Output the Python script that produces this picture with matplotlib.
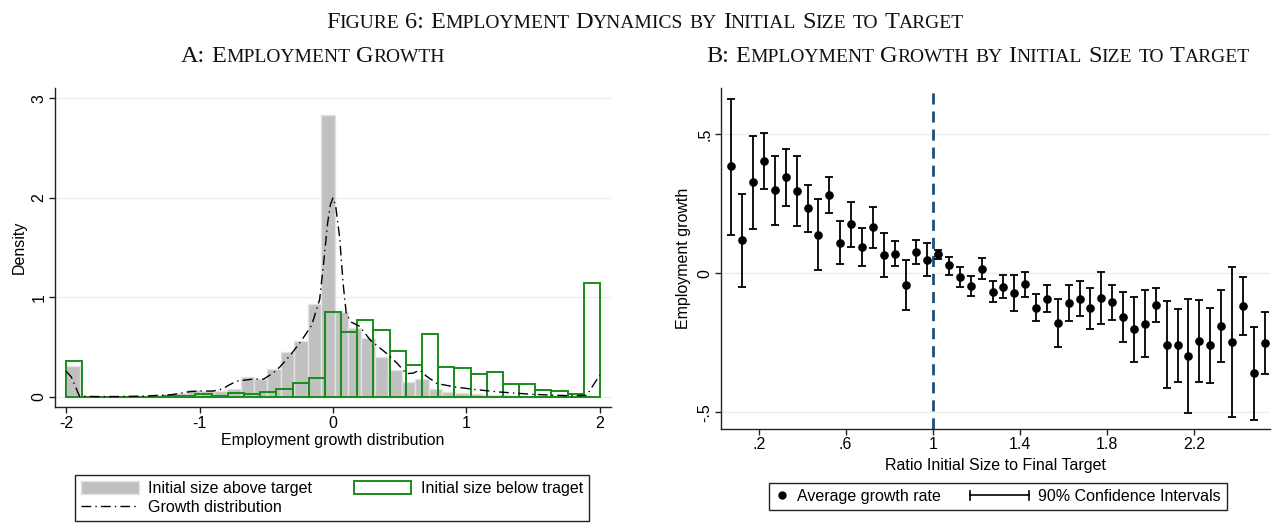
import numpy as np
import matplotlib
matplotlib.use("Agg")
import matplotlib.pyplot as plt
from matplotlib.transforms import IdentityTransform
from matplotlib.legend_handler import HandlerBase
from matplotlib.lines import Line2D
from matplotlib.patches import Patch

# ---------------- data ----------------
# Panel A: histogram of employment growth, firms with initial size above target (gray)
gray_start = -2.0
gray_width = 0.1006
gray_heights = [0.31, 0.004, 0.004, 0.005, 0.006, 0.01, 0.02, 0.025, 0.04, 0.067,
                0.06, 0.06, 0.085, 0.20, 0.185, 0.285, 0.45, 0.56, 0.93, 2.83,
                0.855, 0.69, 0.59, 0.40, 0.27, 0.15, 0.185, 0.085, 0.05, 0.04,
                0.03, 0.025, 0.018, 0.012, 0.01, 0.008, 0.006, 0.005, 0.004]
# firms with initial size below target (green outline)
green_start = -2.0
green_width = 4.0 / 33
green_heights = [0.36, 0.004, 0.003, 0.003, 0.004, 0.005, 0.006, 0.01, 0.027, 0.01,
                 0.04, 0.027, 0.054, 0.084, 0.138, 0.188, 0.856, 0.654, 0.778, 0.678,
                 0.463, 0.326, 0.634, 0.306, 0.296, 0.235, 0.248, 0.128, 0.131, 0.074,
                 0.06, 0.03, 1.15]
# overall growth density (dash-dot line)
kde_x = [-2.0, -1.96, -1.9, -1.8, -1.6, -1.4, -1.2, -1.07, -1.0, -0.9, -0.83, -0.78,
         -0.72, -0.6, -0.52, -0.45, -0.4, -0.32, -0.24, -0.16, -0.1, -0.07, -0.04,
         -0.02, 0.0, 0.02, 0.05, 0.075, 0.1, 0.14, 0.2, 0.28, 0.4, 0.48, 0.55, 0.6,
         0.65, 0.7, 0.78, 0.92, 1.07, 1.25, 1.5, 1.75, 1.9, 1.95, 2.0]
kde_y = [0.26, 0.2, 0.01, 0.005, 0.005, 0.01, 0.025, 0.055, 0.06, 0.06, 0.08, 0.12,
         0.16, 0.18, 0.18, 0.24, 0.30, 0.42, 0.56, 0.72, 0.98, 1.35, 1.75,
         1.93, 2.0, 1.92, 1.6, 1.15, 0.83, 0.75, 0.71, 0.57, 0.44, 0.34, 0.235, 0.24,
         0.27, 0.21, 0.135, 0.10, 0.075, 0.05, 0.027, 0.014, 0.016, 0.12, 0.22]
xticks_A = [-2, -1, 0, 1, 2]
yticks_A = [0, 1, 2, 3]

# Panel B: employment growth by ratio of initial size to final target
ratio_x = [0.075, 0.125, 0.175, 0.225, 0.275, 0.325, 0.375, 0.425, 0.475, 0.525,
           0.575, 0.625, 0.675, 0.725, 0.775, 0.825, 0.875, 0.925, 0.975, 1.025,
           1.075, 1.125, 1.175, 1.225, 1.275, 1.325, 1.375, 1.425, 1.475, 1.525,
           1.575, 1.625, 1.675, 1.725, 1.775, 1.825, 1.875, 1.925, 1.975, 2.025,
           2.075, 2.125, 2.175, 2.225, 2.275, 2.325, 2.375, 2.425, 2.475, 2.525]
growth_mean = [0.384, 0.118, 0.327, 0.402, 0.299, 0.345, 0.296, 0.235, 0.138, 0.282,
               0.110, 0.176, 0.096, 0.167, 0.067, 0.071, -0.042, 0.078, 0.049, 0.068,
               0.028, -0.014, -0.047, 0.017, -0.067, -0.048, -0.071, -0.038, -0.124, -0.091,
               -0.179, -0.106, -0.091, -0.126, -0.089, -0.104, -0.157, -0.200, -0.181, -0.115,
               -0.257, -0.259, -0.297, -0.242, -0.259, -0.191, -0.247, -0.118, -0.359, -0.252]
ci_low = [0.139, -0.048, 0.159, 0.303, 0.175, 0.243, 0.170, 0.150, 0.010, 0.216,
          0.032, 0.094, 0.026, 0.092, -0.013, 0.026, -0.132, 0.035, -0.011, 0.053,
          -0.008, -0.049, -0.082, -0.020, -0.102, -0.089, -0.134, -0.084, -0.170, -0.140,
          -0.264, -0.171, -0.153, -0.199, -0.183, -0.168, -0.246, -0.318, -0.300, -0.177,
          -0.412, -0.390, -0.504, -0.392, -0.394, -0.318, -0.518, -0.223, -0.526, -0.362]
ci_high = [0.627, 0.285, 0.495, 0.504, 0.421, 0.447, 0.423, 0.319, 0.266, 0.347,
           0.187, 0.257, 0.162, 0.240, 0.144, 0.115, 0.048, 0.121, 0.110, 0.084,
           0.060, 0.022, -0.011, 0.055, -0.029, -0.008, -0.008, 0.005, -0.076, -0.041,
           -0.094, -0.041, -0.029, -0.052, 0.004, -0.042, -0.067, -0.086, -0.062, -0.052,
           -0.100, -0.129, -0.092, -0.095, -0.125, -0.062, 0.022, -0.014, -0.192, -0.141]
target_ratio = 1.0
xticks_B = [0.2, 0.6, 1.0, 1.4, 1.8, 2.2]
xticklabels_B = [".2", ".6", "1", "1.4", "1.8", "2.2"]
yticks_B = [-0.5, 0.0, 0.5]
yticklabels_B = ["-.5", "0", ".5"]

title_main = "Figure 6: Employment Dynamics by Initial Size to Target"
title_A = "A: Employment Growth"
title_B = "B: Employment Growth by Initial Size to Target"

# ---------------- style ----------------
plt.rcParams["font.family"] = ["Liberation Sans", "DejaVu Sans"]
W, H = 1273, 527
DPI = 100
FS = 11.5
GRAY = "#c0c0c0"
GRAY_EDGE = "#e2e2e2"
GREEN = "#1a8c1a"
AXC = "#222222"
GRID = "#e8f0f2"
NAVY = "#1f4e79"
KDE_LS = (0, (7, 3, 1, 3))

fig = plt.figure(figsize=(W / DPI, H / DPI), dpi=DPI)


def px_axes(l, t, r, b):
    return fig.add_axes([l / W, 1 - b / H, (r - l) / W, (b - t) / H])


def style_axes(ax):
    for s in ("top", "right"):
        ax.spines[s].set_visible(False)
    for s in ("left", "bottom"):
        ax.spines[s].set_color(AXC)
        ax.spines[s].set_linewidth(1.0)
    ax.tick_params(direction="out", length=4.0, width=1.0, color=AXC,
                   labelsize=FS, pad=2)
    ax.tick_params(axis="y", labelrotation=90)
    for lab in ax.get_yticklabels():
        lab.set_va("center")
    ax.grid(axis="y", color=GRID, lw=1.0)
    ax.set_axisbelow(True)


# ---------------- panel A ----------------
axA = px_axes(55, 88.3, 611, 407.3)
gray_left = gray_start + gray_width * np.arange(len(gray_heights))
green_left = green_start + green_width * np.arange(len(green_heights))
axA.bar(gray_left, gray_heights, width=gray_width, align="edge", color=GRAY,
        edgecolor=GRAY_EDGE, linewidth=1.0, zorder=2)
axA.bar(green_left, green_heights, width=green_width, align="edge",
        facecolor="none", edgecolor=GREEN, linewidth=1.4, zorder=3)
axA.plot(kde_x, kde_y, color="black", lw=1.0, ls=KDE_LS, zorder=4)
axA.set_xlim(-2.083, 2.083)
axA.set_ylim(-0.103, 3.1)
axA.set_xticks(xticks_A)
axA.set_xticklabels([str(v) for v in xticks_A])
axA.set_yticks(yticks_A)
axA.set_yticklabels([str(v) for v in yticks_A])
style_axes(axA)
axA.set_xlabel("Employment growth distribution", fontsize=FS)
axA.set_ylabel("Density", fontsize=FS)
axA.xaxis.label.set_va("center")
axA.yaxis.label.set_va("center")
axA.xaxis.set_label_coords(0.5, -(440 - 407.3) / (407.3 - 88.3))
axA.yaxis.set_label_coords((19 - 55) / (611 - 55), 0.5)

# ---------------- panel B ----------------
axB = px_axes(721, 88.3, 1270, 429)
mean = np.array(growth_mean)
yerr = [mean - np.array(ci_low), np.array(ci_high) - mean]
axB.errorbar(ratio_x, growth_mean, yerr=yerr, fmt="o", color="black", ms=5.2,
             capsize=2.7, elinewidth=1.3, capthick=1.3, zorder=3)
axB.axvline(target_ratio, color=NAVY, lw=2.0, ls=(0, (4, 2.5)), zorder=2)
axB.set_xlim(0.027, 2.55)
axB.set_ylim(-0.56, 0.665)
axB.set_xticks(xticks_B)
axB.set_xticklabels(xticklabels_B)
axB.set_yticks(yticks_B)
axB.set_yticklabels(yticklabels_B)
style_axes(axB)
axB.set_xlabel("Ratio Initial Size to Final Target", fontsize=FS)
axB.set_ylabel("Employment growth", fontsize=FS)
axB.xaxis.label.set_va("center")
axB.yaxis.label.set_va("center")
axB.xaxis.set_label_coords(0.5, -(465 - 429) / (429 - 88.3))
axB.yaxis.set_label_coords((684 - 721) / (1270 - 721), 0.5)

# ---------------- legends ----------------
legA_handles = [Patch(facecolor=GRAY, edgecolor=GRAY_EDGE),
                Line2D([], [], color="black", lw=1.0, ls=KDE_LS),
                Patch(facecolor="white", edgecolor=GREEN, lw=1.4)]
legA_labels = ["Initial size above target", "Growth distribution",
               "Initial size below traget"]
legA = fig.legend(legA_handles, legA_labels, ncol=2, loc="center",
                  bbox_to_anchor=(332 / W, 1 - 498 / H), frameon=True,
                  fancybox=False, edgecolor=AXC, framealpha=1, fontsize=FS,
                  handlelength=3.6, handleheight=0.9, handletextpad=0.6,
                  columnspacing=2.6, borderpad=0.35, labelspacing=0.25,
                  borderaxespad=0)
legA.get_frame().set_linewidth(1.0)


class CIHandler(HandlerBase):
    def create_artists(self, legend, orig_handle, xdescent, ydescent, width,
                       height, fontsize, trans):
        y = (height - ydescent) / 2
        x1 = width - xdescent
        x0 = x1 - 3.7 * fontsize
        cap = 0.3 * fontsize
        kw = dict(color="black", lw=1.2, transform=trans)
        return [Line2D([x0, x1], [y, y], **kw),
                Line2D([x0, x0], [y - cap, y + cap], **kw),
                Line2D([x1, x1], [y - cap, y + cap], **kw)]


ci_handle = Line2D([], [], color="black")
legB = fig.legend([Line2D([], [], marker="o", color="black", ls="none", ms=5),
                   ci_handle],
                  ["Average growth rate", "90% Confidence Intervals"], ncol=2,
                  loc="center", bbox_to_anchor=(998 / W, 1 - 496.5 / H),
                  frameon=True, fancybox=False, edgecolor=AXC, framealpha=1,
                  fontsize=FS, handlelength=0.8, handletextpad=0.55,
                  columnspacing=4.7, borderpad=0.4, borderaxespad=0,
                  handler_map={ci_handle: CIHandler()})
legB.get_frame().set_linewidth(1.0)

# ---------------- small-caps titles ----------------
renderer = fig.canvas.get_renderer()


def text_width(s, size, family):
    t = fig.text(0, 0, s, fontsize=size, family=family, transform=IdentityTransform())
    w = t.get_window_extent(renderer).width
    t.remove()
    return w


def smallcaps(text, xc, baseline_from_top, size, ratio=0.8,
              family="Liberation Serif"):
    space = text_width("M M", size, family) - text_width("MM", size, family)
    pieces = []
    words = text.split(" ")
    for wi, word in enumerate(words):
        runs = []
        for ch in word:
            small = ch.islower()
            if runs and runs[-1][1] == small:
                runs[-1][0] += ch.upper() if small else ch
            else:
                runs.append([ch.upper() if small else ch, small])
        for s, small in runs:
            fs = size * ratio if small else size
            pieces.append((s, fs, text_width(s, fs, family)))
        if wi < len(words) - 1:
            pieces.append((None, size, space))
    total = sum(p[2] for p in pieces)
    x = xc - total / 2
    y = H - baseline_from_top
    for s, fs, w in pieces:
        if s is not None:
            fig.text(x, y, s, fontsize=fs, family=family, ha="left",
                     va="baseline", transform=IdentityTransform(), color="#111111")
        x += w


smallcaps(title_main, 645, 28, 17.5)
smallcaps(title_A, 313, 62, 17.5)
smallcaps(title_B, 978, 62, 17.5)

fig.savefig("out.png", dpi=DPI)
